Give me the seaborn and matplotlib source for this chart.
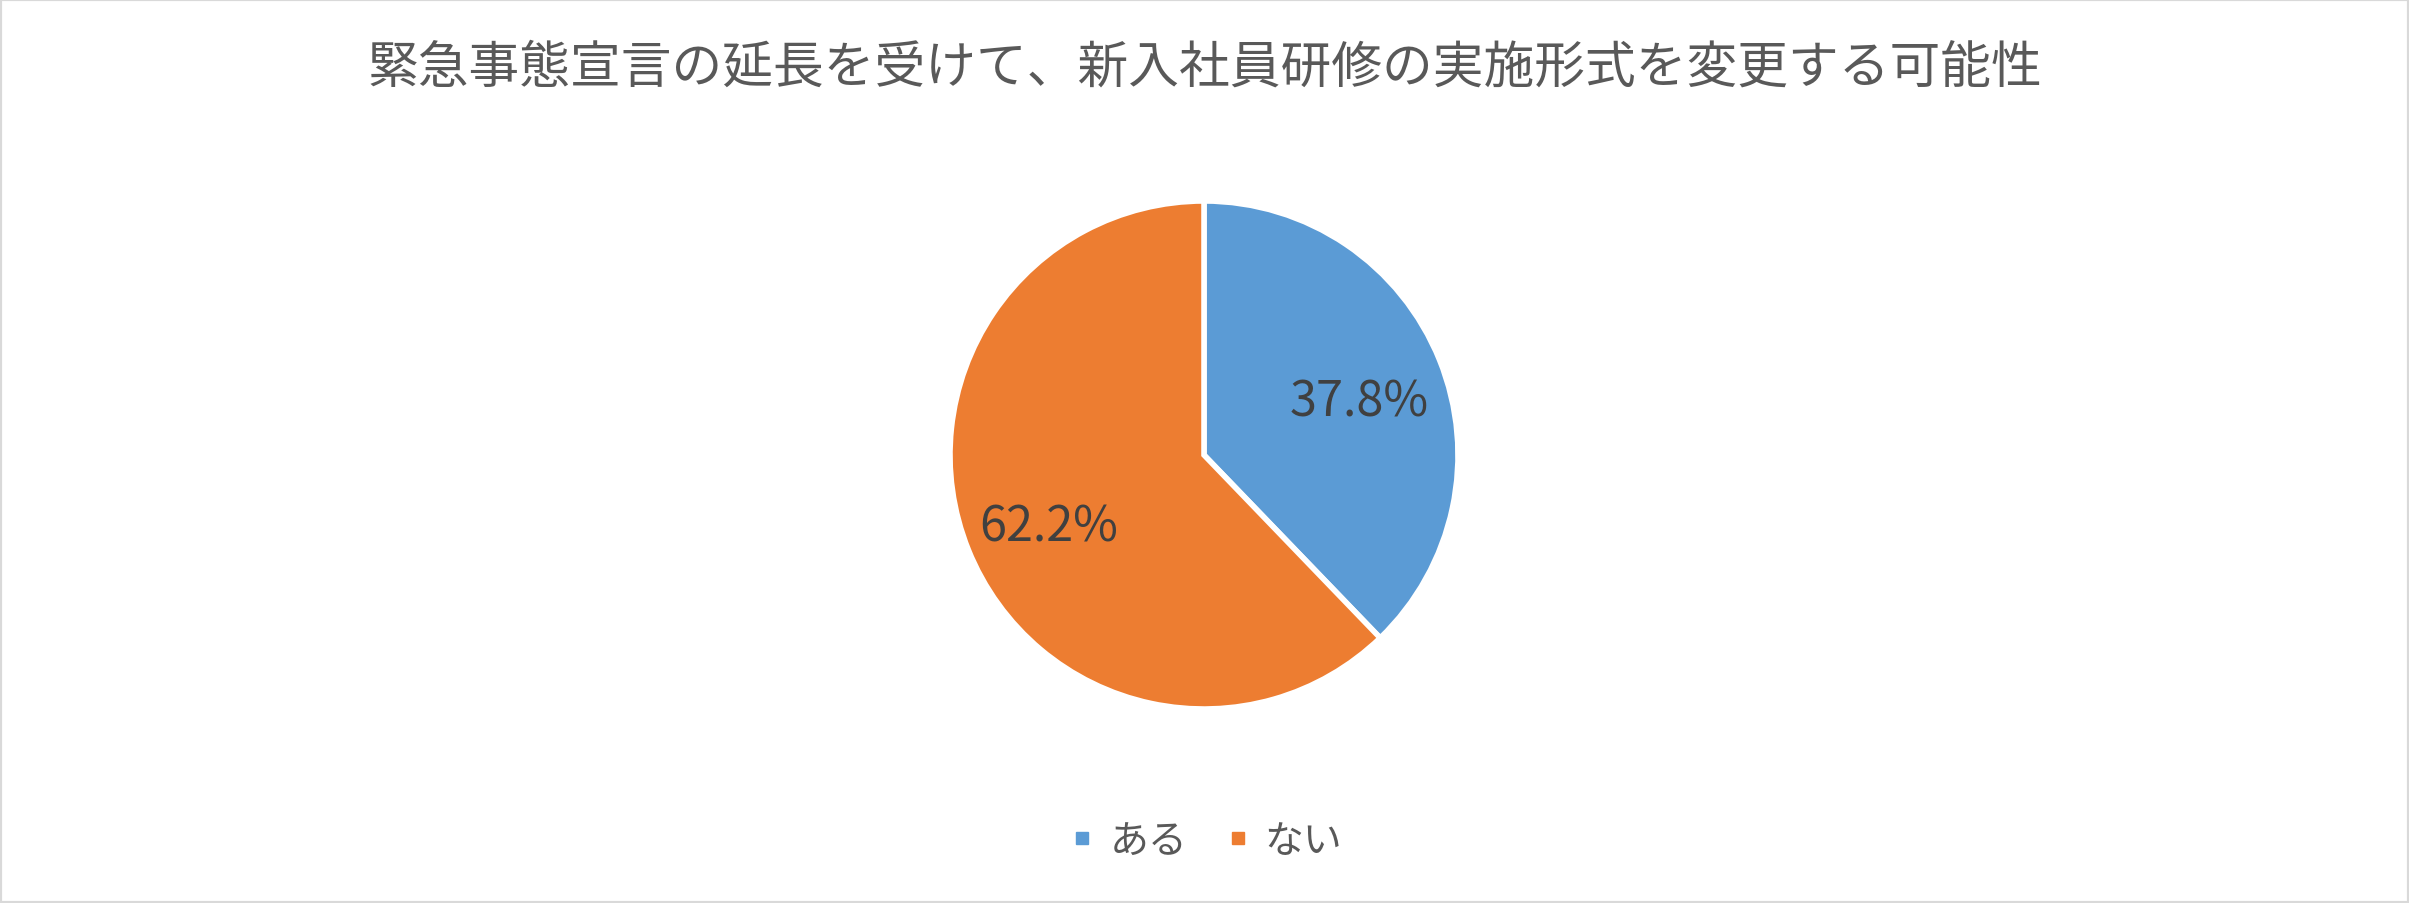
import matplotlib
matplotlib.use("Agg")
import matplotlib.pyplot as plt
import matplotlib.transforms as mtransforms
import seaborn as sns
from matplotlib.lines import Line2D
from matplotlib.patches import Rectangle

# ---- data ----
categories = ["ある", "ない"]
values = [37.8, 62.2]
colors = ["#5B9BD5", "#ED7D31"]
title = "緊急事態宣言の延長を受けて、新入社員研修の実施形式を変更する可能性"

sns.set_theme(style="white")
plt.rcParams['font.family'] = ['Noto Sans CJK JP', 'DejaVu Sans']

W, H = 2409, 904
fig = plt.figure(figsize=(W / 100, H / 100), dpi=100)
fig.patch.set_facecolor("white")

# pie axes: center (1204, 456), radius ~254 px
cx, cy, r = 1204, 456, 254
ax = fig.add_axes([(cx - r) / W, (H - cy - r) / H, 2 * r / W, 2 * r / H])
wedges, texts, autotexts = ax.pie(
    values, colors=colors, startangle=90, counterclock=False,
    autopct=lambda p: f"{p:.1f}%", pctdistance=0.66,
    wedgeprops=dict(edgecolor="white", linewidth=4),
    textprops=dict(color="#404040", fontsize=35),
)
for t in autotexts:
    t.set_transform(mtransforms.offset_copy(t.get_transform(), fig=fig, x=0, y=-9, units="dots"))
ax.set_xlim(-1, 1)
ax.set_ylim(-1, 1)
ax.set_aspect("equal")
ax.axis("off")

fig.text(0.5, 1 - 69 / H, title, ha="center", va="center",
         fontsize=36.5, color="#595959")

handles = [Line2D([0], [0], marker="s", linestyle="none", markersize=8,
                  markerfacecolor=c, markeredgecolor=c) for c in colors]
leg = fig.legend(handles, categories, loc="center", bbox_to_anchor=(0.5, 1 - 842 / H),
                 ncol=2, frameon=False, fontsize=28, handletextpad=0.3,
                 columnspacing=0.9, handlelength=0.8)
for t in leg.get_texts():
    t.set_color("#595959")

fig.patches.append(Rectangle((0, 0), 1, 1, transform=fig.transFigure, fill=False,
                             edgecolor="#D9D9D9", linewidth=3, zorder=10))

fig.savefig("out.png", dpi=100, facecolor="white")
